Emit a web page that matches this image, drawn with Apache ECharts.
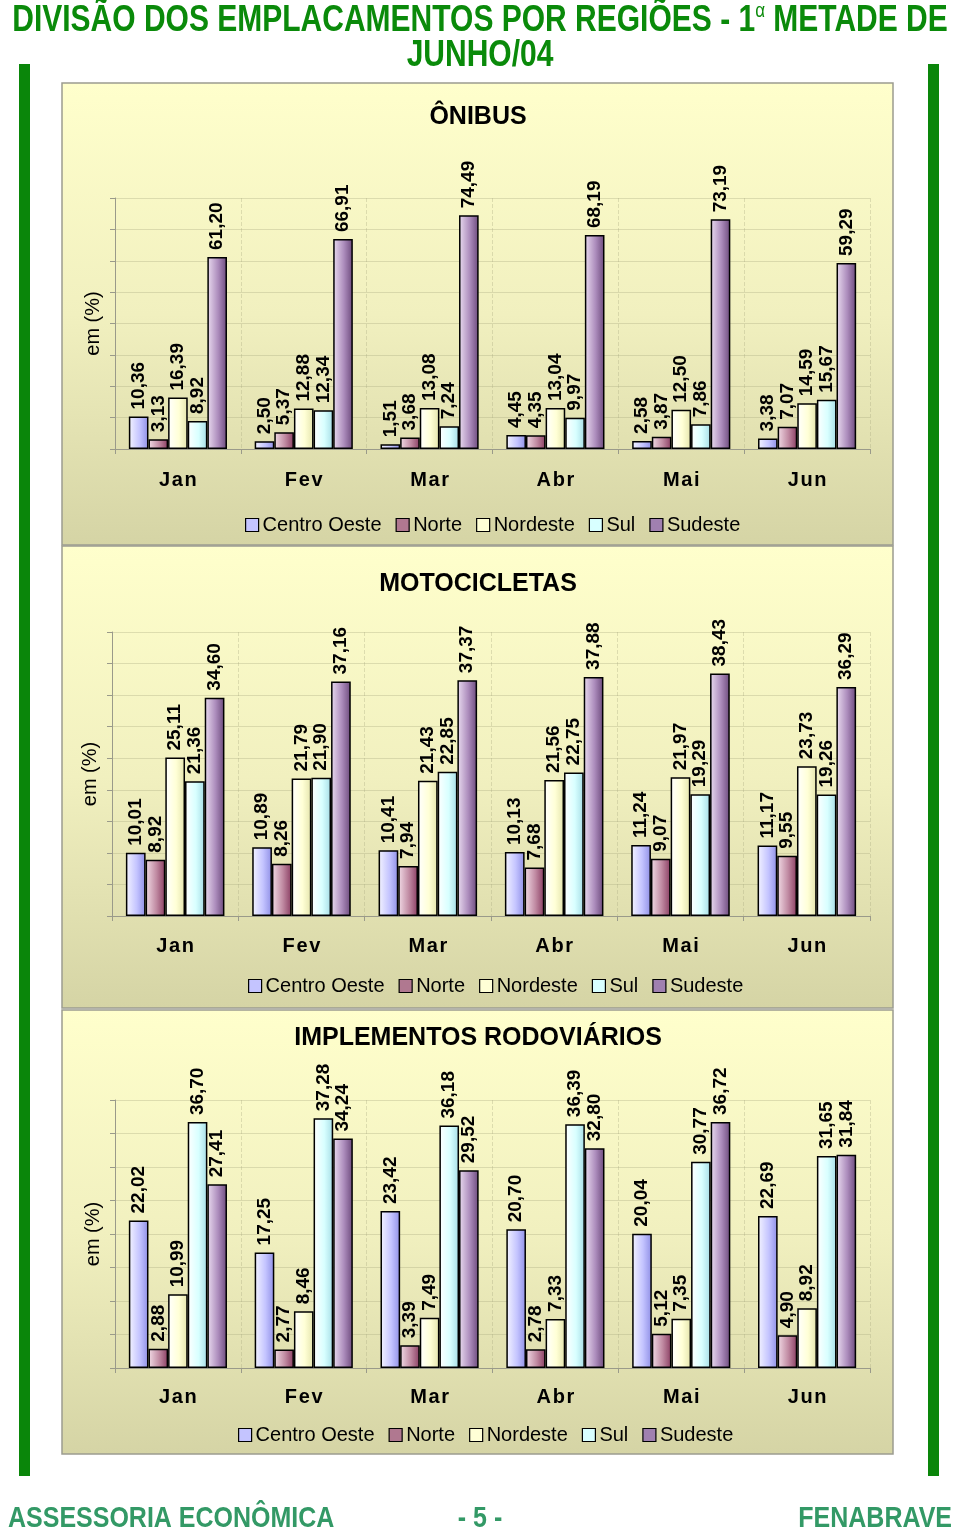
<!DOCTYPE html>
<html>
<head>
<meta charset="utf-8">
<script src="https://cdn.jsdelivr.net/npm/echarts@6/dist/echarts.min.js"></script>
<style>
html,body{margin:0;padding:0;background:#fff;}
#c{width:960px;height:1537px;}
</style>
</head>
<body>
<div id="c"></div>
<script>
// ---- DATA ----
const categories = ['Jan', 'Fev', 'Mar', 'Abr', 'Mai', 'Jun'];
const regions = ['Centro Oeste', 'Norte', 'Nordeste', 'Sul', 'Sudeste'];

const onibusCentroOeste = [10.36, 2.50, 1.51, 4.45, 2.58, 3.38];
const onibusNorte       = [3.13, 5.37, 3.68, 4.35, 3.87, 7.07];
const onibusNordeste    = [16.39, 12.88, 13.08, 13.04, 12.50, 14.59];
const onibusSul         = [8.92, 12.34, 7.24, 9.97, 7.86, 15.67];
const onibusSudeste     = [61.20, 66.91, 74.49, 68.19, 73.19, 59.29];

const motoCentroOeste = [10.01, 10.89, 10.41, 10.13, 11.24, 11.17];
const motoNorte       = [8.92, 8.26, 7.94, 7.68, 9.07, 9.55];
const motoNordeste    = [25.11, 21.79, 21.43, 21.56, 21.97, 23.73];
const motoSul         = [21.36, 21.90, 22.85, 22.75, 19.29, 19.26];
const motoSudeste     = [34.60, 37.16, 37.37, 37.88, 38.43, 36.29];

const implCentroOeste = [22.02, 17.25, 23.42, 20.70, 20.04, 22.69];
const implNorte       = [2.88, 2.77, 3.39, 2.78, 5.12, 4.90];
const implNordeste    = [10.99, 8.46, 7.49, 7.33, 7.35, 8.92];
const implSul         = [36.70, 37.28, 36.18, 36.39, 30.77, 31.65];
const implSudeste     = [27.41, 34.24, 29.52, 32.80, 36.72, 31.84];

const chartTitles = ['ÔNIBUS', 'MOTOCICLETAS', 'IMPLEMENTOS RODOVIÁRIOS'];
const yMax = [80, 45, 40];
const yInterval = [10, 5, 5];

// ---- STYLE ----
const FONT = '"Liberation Sans", Arial, sans-serif';
function hg(c0, c1, c2) {
  return new echarts.graphic.LinearGradient(0, 0, 1, 0, [
    {offset: 0, color: c0}, {offset: 0.55, color: c1}, {offset: 1, color: c2}
  ]);
}
const barColors = [
  hg('#f4f4ff', '#c4c4ff', '#8f8fe6'),
  hg('#f2dce6', '#c08aa2', '#8a3d62'),
  hg('#ffffff', '#ffffd6', '#e4e4ac'),
  hg('#ffffff', '#d8ffff', '#a6dde6'),
  hg('#eadcf0', '#ac8cbc', '#6c4a7c')
];
const legendColors = ['#c4c4ff', '#b07890', '#ffffd6', '#d8ffff', '#a080b0'];

const datasets = [
  [onibusCentroOeste, onibusNorte, onibusNordeste, onibusSul, onibusSudeste],
  [motoCentroOeste, motoNorte, motoNordeste, motoSul, motoSudeste],
  [implCentroOeste, implNorte, implNordeste, implSul, implSudeste]
];

const grids = [
  {left: 115, top: 198, width: 755, height: 251},
  {left: 112, top: 632, width: 758, height: 284},
  {left: 115, top: 1100, width: 755, height: 268}
];
const xLabelMargin = [21, 20, 19];
const legendPos = [{left: 240, top: 510}, {left: 243, top: 971}, {left: 233, top: 1420}];
const titleY = [117, 584, 1038];
const panels = [[62, 83, 831, 462], [62, 546, 831, 462], [62, 1010, 831, 444]];

const fmt = v => v.toFixed(2).replace('.', ',');

const xAxes = [], yAxes = [], series = [], legends = [];
grids.forEach((g, i) => {
  xAxes.push({
    type: 'category', gridIndex: i, data: categories, boundaryGap: true,
    axisLine: {lineStyle: {color: '#9a9a8a', width: 1}},
    axisTick: {show: true, length: 5, lineStyle: {color: '#9a9a8a'}},
    axisLabel: {color: '#000', fontSize: 20, fontWeight: 'bold', fontFamily: FONT, margin: xLabelMargin[i],
      formatter: v => v.split('').join('\u200A')},
    splitLine: {show: true, lineStyle: {color: 'rgba(170,170,130,0.35)', type: 'dashed'}}
  });
  yAxes.push({
    type: 'value', gridIndex: i, min: 0, max: yMax[i], interval: yInterval[i],
    name: 'em (%)', nameLocation: 'middle', nameGap: 12, nameRotate: 90,
    nameTextStyle: {color: '#000', fontSize: 20, fontFamily: FONT},
    axisLine: {show: true, lineStyle: {color: '#9a9a8a'}},
    axisTick: {show: true, length: 5, inside: false, lineStyle: {color: '#9a9a8a'}},
    axisLabel: {show: false},
    splitLine: {show: true, lineStyle: {color: 'rgba(170,170,130,0.35)'}}
  });
  datasets[i].forEach((arr, k) => {
    series.push({
      type: 'bar', name: regions[k], xAxisIndex: i, yAxisIndex: i,
      data: arr, barGap: 0, barCategoryGap: '22%',
      itemStyle: {color: barColors[k], borderColor: '#000', borderWidth: 1.5},
      label: {
        show: true, position: 'top', rotate: 90, align: 'left', verticalAlign: 'middle',
        distance: 7, color: '#000', fontSize: 19, fontWeight: 'bold', fontFamily: FONT,
        formatter: p => fmt(p.value)
      },
      emphasis: {disabled: true},
      animation: false
    });
  });
  legends.push({
    data: regions.map((r, k) => ({name: r, itemStyle: {color: legendColors[k], borderColor: '#000', borderWidth: 1.2}})),
    left: legendPos[i].left, top: legendPos[i].top, orient: 'horizontal',
    icon: 'rect', itemWidth: 13, itemHeight: 13, itemGap: 14,
    textStyle: {color: '#000', fontSize: 20, fontFamily: FONT, padding: [0, 0, 0, -1]},
    selectedMode: false
  });
});

const graphics = [];
// green side bars
graphics.push({type: 'rect', z: 0, shape: {x: 19, y: 64, width: 11, height: 1412}, style: {fill: '#0a860a'}});
graphics.push({type: 'rect', z: 0, shape: {x: 928, y: 64, width: 11, height: 1412}, style: {fill: '#0a860a'}});
// panels
panels.forEach(p => {
  graphics.push({
    type: 'rect', z: -10, shape: {x: p[0], y: p[1], width: p[2], height: p[3]},
    style: {
      fill: new echarts.graphic.LinearGradient(0, 0, 0, 1, [
        {offset: 0, color: '#ffffcc'}, {offset: 0.5, color: '#f1f0bf'}, {offset: 1, color: '#d5d4a5'}
      ]),
      stroke: '#9c9c90', lineWidth: 1.5
    }
  });
});
// chart titles
chartTitles.forEach((t, i) => {
  graphics.push({
    type: 'text', z: 5, style: {
      text: t, x: 478, y: titleY[i], align: 'center', verticalAlign: 'middle',
      fill: '#000', font: 'bold 25px ' + FONT
    }
  });
});
// main title
graphics.push({
  type: 'text', z: 5, x: 480, y: 21, scaleY: 1.2, style: {
    x: 0, y: 0, align: 'center', verticalAlign: 'middle',
    text: '{a|DIVISÃO DOS EMPLACAMENTOS POR REGIÕES - 1}{s|α}{a| METADE DE}',
    rich: {
      a: {fontSize: 30, fontWeight: 'bold', fontFamily: FONT, fill: '#0a8a0a'},
      s: {fontSize: 17, fontFamily: FONT, fill: '#0a8a0a', padding: [0, 0, 16, 0]}
    }
  }
});
graphics.push({
  type: 'text', z: 5, x: 480, y: 56, scaleY: 1.2, style: {
    x: 0, y: 0, align: 'center', verticalAlign: 'middle',
    text: 'JUNHO/04', fill: '#0a8a0a', font: 'bold 30px ' + FONT
  }
});
// footer
const footStyle = {fill: '#339966', font: 'bold 25px ' + FONT, verticalAlign: 'middle', x: 0, y: 0};
graphics.push({type: 'text', z: 5, x: 8, y: 1519, scaleY: 1.2, style: Object.assign({}, footStyle, {align: 'left', text: 'ASSESSORIA ECONÔMICA'})});
graphics.push({type: 'text', z: 5, x: 480, y: 1519, scaleY: 1.2, style: Object.assign({}, footStyle, {align: 'center', text: '- 5 -'})});
graphics.push({type: 'text', z: 5, x: 952, y: 1519, scaleY: 1.2, style: Object.assign({}, footStyle, {align: 'right', text: 'FENABRAVE'})});

const chart = echarts.init(document.getElementById('c'), null, {renderer: 'canvas'});
chart.setOption({
  backgroundColor: '#ffffff',
  animation: false,
  grid: grids.map(g => Object.assign({containLabel: false}, g)),
  xAxis: xAxes,
  yAxis: yAxes,
  legend: legends,
  series: series,
  graphic: graphics
});
</script>
</body>
</html>
